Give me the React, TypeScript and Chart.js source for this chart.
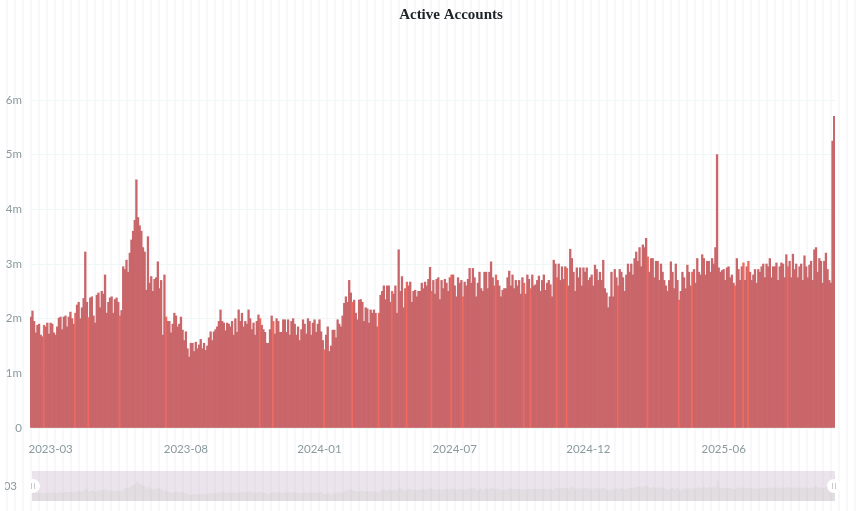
import React, { useEffect, useRef } from "react";
import { Chart, registerables } from "chart.js";

Chart.register(...registerables);

const chartTitle = "Active Accounts";
const firstDate = "2023-02-14";
const stepDays = 2;

// active accounts in millions
const activeAccounts = [
  2.03,2.14,1.95,1.74, 1.88,1.90,1.70,1.67, 1.88,1.85,1.92,1.72, 1.92,1.90,1.74,1.70,
  1.85,2.01,2.03,1.80, 2.03,2.05,1.85,2.03, 2.12,2.00,1.90,2.10, 2.25,2.30,2.00,2.20,
  2.37,3.22,2.30,2.02, 2.38,2.40,2.05,1.92, 2.43,2.47,2.20,2.50, 2.45,2.80,2.10,2.30,
  2.38,2.40,2.10,2.35, 2.38,2.30,2.05,2.15, 2.95,2.90,3.07,2.85, 3.20,3.44,3.60,3.80,
  4.54,3.85,3.70,3.60, 3.30,3.22,2.52,3.50, 2.65,2.77,2.50,2.72, 2.75,3.04,2.55,2.70,
  1.70,2.80,2.03,1.95, 1.95,1.74,1.90,2.10, 2.05,1.85,1.90,2.03, 1.79,1.60,1.76,1.45,
  1.30,1.55,1.55,1.40, 1.57,1.45,1.52,1.62, 1.45,1.55,1.42,1.50, 1.65,1.76,1.60,1.76,
  1.80,1.85,1.95,2.16, 1.95,1.92,1.78,1.92, 1.90,1.85,1.95,1.70, 2.00,1.75,2.16,1.95,
  2.10,1.85,1.95,1.90, 2.16,2.00,1.80,1.92, 1.70,1.95,2.07,2.00, 1.88,1.80,1.75,1.55,
  1.55,1.80,2.05,1.95, 1.72,2.00,1.95,1.75, 1.75,1.98,1.98,1.75, 1.98,1.70,1.95,2.00,
  1.90,1.70,1.85,1.60, 1.80,1.98,1.90,1.72, 2.00,1.95,1.70,1.92, 1.98,1.75,1.90,1.98,
  1.76,1.60,1.43,1.70, 1.85,1.40,1.50,1.79, 1.79,1.65,1.98,1.90, 1.85,2.05,2.28,2.40,
  2.30,2.70,2.47,2.30, 2.34,2.10,1.98,2.34, 2.35,2.30,1.95,2.20, 2.18,1.92,2.16,2.10,
  2.16,2.10,1.85,2.10, 2.43,2.50,2.60,2.35, 2.60,2.60,2.30,2.50, 2.45,2.60,2.10,3.26,
  2.50,2.77,2.20,2.55, 2.67,2.60,2.67,2.30, 2.50,2.52,2.40,2.50, 2.50,2.65,2.55,2.67,
  2.60,2.72,2.94,2.50, 2.70,2.45,2.72,2.75, 2.35,2.70,2.55,2.72, 2.65,2.50,2.75,2.80,
  2.80,2.60,2.40,2.75, 2.65,2.70,2.40,2.67, 2.60,2.72,2.92,2.65, 2.92,2.75,2.40,2.65,
  2.85,2.55,2.50,2.85, 2.85,2.55,2.85,3.04, 2.75,2.60,2.80,2.70, 2.60,2.40,2.52,2.55,
  2.55,2.75,2.87,2.60, 2.80,2.55,2.70,2.60, 2.70,2.45,2.75,2.65, 2.45,2.80,2.72,2.55,
  2.80,2.60,2.62,2.70, 2.78,2.50,2.70,2.80, 2.52,2.65,2.70,2.62, 2.40,3.07,3.00,2.75,
  3.00,2.70,2.95,2.72, 2.95,2.92,2.60,3.27, 3.10,2.85,2.50,2.93, 2.75,2.93,2.60,2.93,
  2.85,2.93,2.70,2.75, 2.80,2.60,2.98,2.90, 2.70,2.85,2.70,3.07, 2.55,2.47,2.20,2.40,
  2.85,2.40,2.90,2.75, 2.60,2.90,2.85,2.75, 2.50,2.80,3.00,2.85, 3.00,2.80,3.10,3.22,
  3.05,3.30,2.95,3.35, 3.30,3.47,3.13,2.85, 3.10,3.10,2.75,3.05, 3.05,2.70,3.00,2.85,
  2.70,2.60,2.50,2.70, 3.04,2.85,2.55,3.00, 2.70,2.34,2.50,2.85, 2.75,2.55,2.98,2.85,
  2.60,2.85,2.90,2.65, 3.10,2.85,2.80,3.17, 3.10,2.80,3.05,3.05, 2.85,3.10,3.00,3.30,
  5.00,2.93,2.85,2.88, 2.90,2.70,2.93,2.95, 2.75,2.80,2.65,2.60, 3.10,2.90,2.70,2.95,
  3.02,2.70,2.95,3.05, 2.85,2.70,2.80,2.90, 2.65,2.90,2.85,2.95, 3.00,2.75,3.00,2.95,
  3.10,2.75,2.95,2.95, 3.02,2.70,2.95,3.02, 3.00,2.75,3.17,2.95, 3.05,2.75,3.18,2.90,
  3.00,2.75,2.95,3.00, 2.70,3.15,2.95,2.75, 2.98,3.05,2.70,3.26, 3.30,2.85,3.10,3.05,
  2.65,3.05,3.20,2.90, 2.70,2.65,5.25,5.70,
];

const yTicks = [0, 1, 2, 3, 4, 5, 6];
const labelledBars = [12, 94, 175, 257, 338, 420];
const brightBars = [8, 27, 35, 54, 82, 139, 147, 178, 195, 211, 219, 228, 243, 255, 262, 282, 299, 303, 319, 325, 356, 374, 393, 401, 427, 432, 435, 459];

const dateLabels = activeAccounts.map((_, i) => {
  const d = new Date(firstDate + "T00:00:00Z");
  d.setUTCDate(d.getUTCDate() + i * stepDays);
  return d.toISOString().slice(0, 10);
});

const tickColor = "#8b9a9d";
const tickFont = { family: "Lato", size: 11.5 };

export default function App() {
  const mainRef = useRef<HTMLCanvasElement>(null);
  const miniRef = useRef<HTMLCanvasElement>(null);

  useEffect(() => {
    const shiftTitle = {
      id: "shiftTitle",
      afterLayout(chart: any) {
        if (chart.titleBlock) chart.titleBlock.left = 67;
      },
    };
    const main = new Chart(mainRef.current!, {
      type: "bar",
      data: {
        labels: dateLabels,
        datasets: [
          {
            data: activeAccounts,
            backgroundColor: (ctx: any) => (brightBars.includes(ctx.dataIndex) ? "#f0695f" : "#c9666a"),
            borderWidth: 0,
            barPercentage: 1,
            categoryPercentage: 1,
          },
        ],
      },
      options: {
        animation: false,
        responsive: false,
        layout: { padding: { left: 0, right: 25, top: 0, bottom: 0 } },
        plugins: {
          legend: { display: false },
          tooltip: { enabled: false },
          title: {
            display: true,
            text: chartTitle,
            color: "#1f2428",
            font: { family: "Liberation Serif", size: 15, weight: "bold", lineHeight: 1.2 },
            padding: { top: 6, bottom: 76 },
          },
        },
        scales: {
          x: {
            grid: { display: false },
            border: { display: false },
            ticks: {
              autoSkip: false,
              maxRotation: 0,
              minRotation: 0,
              padding: 6,
              color: tickColor,
              font: tickFont,
              callback: (v: any) => dateLabels[v].slice(0, 7),
            },
            afterBuildTicks: (axis: any) => {
              axis.ticks = labelledBars.map((value) => ({ value }));
            },
            afterFit: (axis: any) => {
              axis.height = 37;
            },
          },
          y: {
            min: 0,
            max: 6,
            grid: { color: "#edf8f5", lineWidth: 1, drawTicks: false },
            border: { display: false },
            ticks: {
              padding: 8,
              color: tickColor,
              font: tickFont,
              callback: (v: any) => (v === 0 ? "0" : v + "m"),
            },
            afterBuildTicks: (axis: any) => {
              axis.ticks = yTicks.map((value) => ({ value }));
            },
            afterFit: (axis: any) => {
              axis.width = 30;
            },
          },
        },
      },
      plugins: [shiftTitle],
    } as any);

    const sliderDecor = {
      id: "sliderDecor",
      beforeDatasetsDraw(chart: any) {
        const { ctx, chartArea: a } = chart;
        ctx.save();
        ctx.fillStyle = "rgba(190,165,195,0.30)";
        ctx.fillRect(a.left, a.top, a.right - a.left, a.bottom - a.top);
        ctx.restore();
      },
      afterDraw(chart: any) {
        const { ctx, chartArea: a } = chart;
        const cy = (a.top + a.bottom) / 2;
        ctx.save();
        ctx.save();
        ctx.beginPath();
        ctx.rect(5, 0, 20, chart.height);
        ctx.clip();
        ctx.fillStyle = tickColor;
        ctx.font = "11.5px Lato";
        ctx.textAlign = "right";
        ctx.textBaseline = "middle";
        ctx.fillText("2023-03", 17, cy);
        ctx.restore();
        [a.left + 1, a.right - 1].forEach((x: number) => {
          ctx.beginPath();
          ctx.arc(x, cy, 7, 0, Math.PI * 2);
          ctx.fillStyle = "#ffffff";
          ctx.fill();
          ctx.fillStyle = "#c9c9cf";
          ctx.fillRect(x - 2, cy - 3, 1, 6);
          ctx.fillRect(x + 1, cy - 3, 1, 6);
        });
        ctx.restore();
      },
    };
    const mini = new Chart(miniRef.current!, {
      type: "line",
      data: {
        labels: dateLabels,
        datasets: [
          {
            data: activeAccounts,
            borderWidth: 0,
            pointRadius: 0,
            fill: "origin",
            backgroundColor: "rgba(190,190,170,0.20)",
          },
        ],
      },
      options: {
        animation: false,
        responsive: false,
        layout: { padding: { left: 32, right: 25, top: 6, bottom: 10 } },
        plugins: { legend: { display: false }, tooltip: { enabled: false } },
        scales: {
          x: { display: false },
          y: { display: false, min: 0, max: 6.67 },
        },
      },
      plugins: [sliderDecor],
    } as any);

    return () => {
      main.destroy();
      mini.destroy();
    };
  }, []);

  return (
    <div
      style={{
        position: "absolute",
        left: 0,
        top: 0,
        width: 860,
        height: 511,
        overflow: "hidden",
        background: "repeating-linear-gradient(90deg, #ffffff 0 6px, #f8f7f9 6px 8px)",
      }}
    >
      <canvas ref={mainRef} width={860} height={465} style={{ position: "absolute", left: 0, top: 0, display: "block" }} />
      <canvas ref={miniRef} width={860} height={46} style={{ position: "absolute", left: 0, top: 465, display: "block" }} />
    </div>
  );
}
